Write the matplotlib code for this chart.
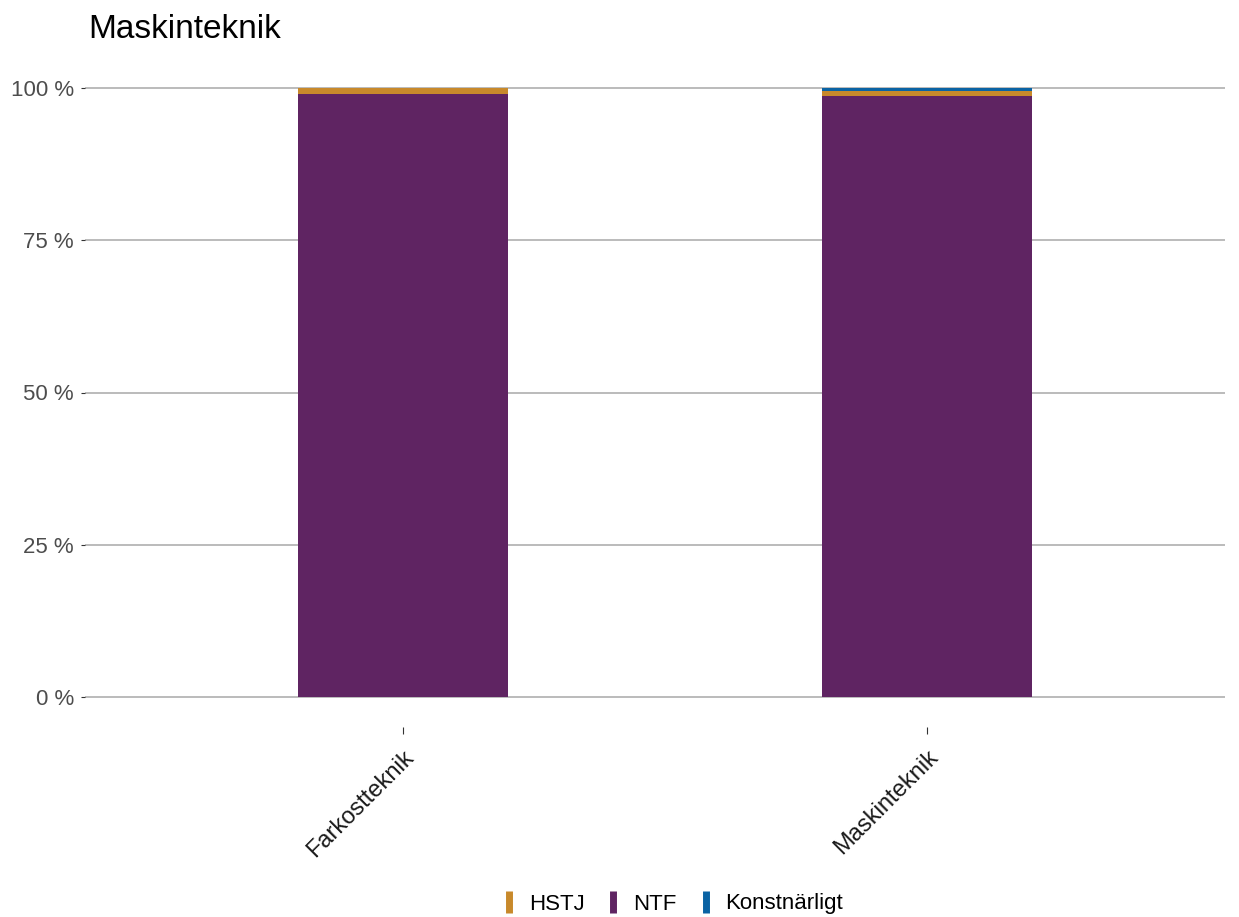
import matplotlib.pyplot as plt
from matplotlib.lines import Line2D
import numpy as np

plt.rcParams['font.family'] = ['Liberation Sans', 'DejaVu Sans']

# data (share of each group, %)
categories = ['Farkostteknik', 'Maskinteknik']
ntf = [99.1, 98.8]
hstj = [0.9, 0.8]
konst = [0.0, 0.4]

series = ['HSTJ', 'NTF', 'Konstnärligt']
colors = {'HSTJ': '#C8892B', 'NTF': '#5F2462', 'Konstnärligt': '#0A63A4'}

W, H = 1239, 917
fig = plt.figure(figsize=(W / 100, H / 100), dpi=100)
ax = fig.add_axes([85 / W, (H - 727) / H, (1225 - 85) / W, (727 - 58) / H])

x = np.arange(len(categories))
ntf_f = np.array(ntf) / 100
hstj_f = np.array(hstj) / 100
konst_f = np.array(konst) / 100

ax.bar(x, ntf_f, width=0.4, color=colors['NTF'], zorder=3)
ax.bar(x, hstj_f, width=0.4, bottom=ntf_f, color=colors['HSTJ'], zorder=3)
ax.bar(x, konst_f, width=0.4, bottom=ntf_f + hstj_f, color=colors['Konstnärligt'], zorder=3)

ax.set_xlim(-0.607, 1.569)
ax.set_ylim(-0.05, 1.05)

yt = [0, 0.25, 0.5, 0.75, 1.0]
ax.set_yticks(yt)
ax.set_yticklabels(['0 %', '25 %', '50 %', '75 %', '100 %'], fontsize=16, color='#4D4D4D')
ax.yaxis.grid(True, color='#A8A8A8', linewidth=1.1, zorder=0)
ax.set_axisbelow(True)

ax.set_xticks(x)
ax.set_xticklabels(categories, rotation=45, ha='right', va='top', rotation_mode='anchor',
                   fontsize=17, color='#1A1A1A')
ax.tick_params(axis='x', length=5, color='#333333', pad=9)
ax.tick_params(axis='y', length=3, color='#333333', pad=5)

for s in ax.spines.values():
    s.set_visible(False)

fig.text(88 / W, 1 - 29 / H, 'Maskinteknik', fontsize=24, va='center', ha='left')

handles = [Line2D([0], [0], linestyle='none', marker='|', markersize=16,
                  markeredgewidth=5, color=colors[s]) for s in series]
fig.legend(handles, series, loc='center', bbox_to_anchor=(0.542, 1 - 904 / H), ncol=3,
           frameon=False, fontsize=16, handlelength=0.8, handletextpad=0.5,
           columnspacing=0.9)

fig.savefig('out.png', dpi=100)
